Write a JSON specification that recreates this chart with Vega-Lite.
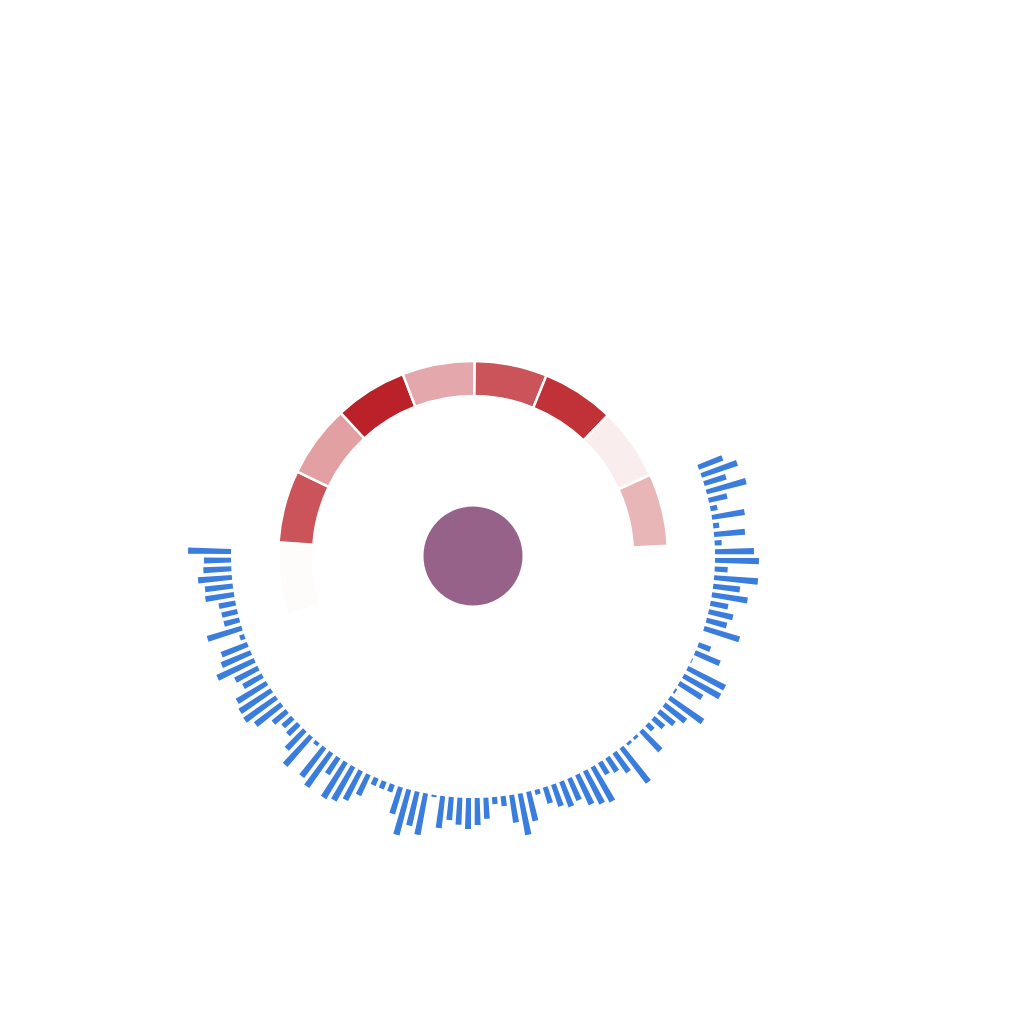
{
  "$schema": "https://vega.github.io/schema/vega-lite/v6.json",
  "autosize": "none",
  "width": 400,
  "height": 400,
  "padding": {"left": 273, "top": 356, "right": 351, "bottom": 268},
  "background": "white",
  "config": {"view": {"stroke": null}},
  "layer": [
    {
      "data": {
        "values": [
          {"seg": 1, "value": 0.02},
          {"seg": 2, "value": 0.77},
          {"seg": 3, "value": 0.43},
          {"seg": 4, "value": 1.0},
          {"seg": 5, "value": 0.39},
          {"seg": 6, "value": 0.77},
          {"seg": 7, "value": 0.93},
          {"seg": 8, "value": 0.08},
          {"seg": 9, "value": 0.33}
        ]
      },
      "mark": {"type": "arc", "innerRadius": 160, "outerRadius": 195, "stroke": "white", "strokeWidth": 2.5},
      "encoding": {
        "theta": {"field": "seg", "type": "ordinal", "scale": {"type": "band", "paddingInner": 0, "paddingOuter": 0, "range": [-1.878, 1.5184]}},
        "color": {"field": "value", "type": "quantitative", "scale": {"domain": [0, 1], "range": ["#ffffff", "#bb2129"], "interpolate": "rgb"}, "legend": null}
      }
    },
    {
      "data": {
        "values": [
          {"i": 1, "v": 26}, {"i": 2, "v": 38}, {"i": 3, "v": 23}, {"i": 4, "v": 41}, {"i": 5, "v": 19},
          {"i": 6, "v": 7}, {"i": 7, "v": 33}, {"i": 8, "v": 6}, {"i": 9, "v": 31}, {"i": 10, "v": 7},
          {"i": 11, "v": 39}, {"i": 12, "v": 44}, {"i": 13, "v": 13}, {"i": 14, "v": 44}, {"i": 15, "v": 27},
          {"i": 16, "v": 36}, {"i": 17, "v": 18}, {"i": 18, "v": 25}, {"i": 19, "v": 21}, {"i": 20, "v": 37},
          {"i": 21, "v": 0}, {"i": 22, "v": 13}, {"i": 23, "v": 27}, {"i": 24, "v": 1}, {"i": 25, "v": 42},
          {"i": 26, "v": 42}, {"i": 27, "v": 27}, {"i": 28, "v": 2}, {"i": 29, "v": 41}, {"i": 30, "v": 27},
          {"i": 31, "v": 20}, {"i": 32, "v": 14}, {"i": 33, "v": 8}, {"i": 34, "v": 28}, {"i": 35, "v": 3},
          {"i": 36, "v": 3}, {"i": 37, "v": 44}, {"i": 38, "v": 24}, {"i": 39, "v": 17}, {"i": 40, "v": 14},
          {"i": 41, "v": 40}, {"i": 42, "v": 37}, {"i": 43, "v": 33}, {"i": 44, "v": 24}, {"i": 45, "v": 27},
          {"i": 46, "v": 23}, {"i": 47, "v": 17}, {"i": 48, "v": 5}, {"i": 49, "v": 30}, {"i": 50, "v": 42},
          {"i": 51, "v": 28}, {"i": 52, "v": 10}, {"i": 53, "v": 7}, {"i": 54, "v": 21}, {"i": 55, "v": 27},
          {"i": 56, "v": 31}, {"i": 57, "v": 27}, {"i": 58, "v": 23}, {"i": 59, "v": 32}, {"i": 60, "v": 2},
          {"i": 61, "v": 42}, {"i": 62, "v": 35}, {"i": 63, "v": 47}, {"i": 64, "v": 28}, {"i": 65, "v": 8},
          {"i": 66, "v": 8}, {"i": 67, "v": 8}, {"i": 68, "v": 23}, {"i": 69, "v": 33}, {"i": 70, "v": 39},
          {"i": 71, "v": 42}, {"i": 72, "v": 20}, {"i": 73, "v": 42}, {"i": 74, "v": 37}, {"i": 75, "v": 4},
          {"i": 76, "v": 39}, {"i": 77, "v": 26}, {"i": 78, "v": 15}, {"i": 79, "v": 13}, {"i": 80, "v": 18},
          {"i": 81, "v": 33}, {"i": 82, "v": 39}, {"i": 83, "v": 38}, {"i": 84, "v": 35}, {"i": 85, "v": 22},
          {"i": 86, "v": 26}, {"i": 87, "v": 41}, {"i": 88, "v": 32}, {"i": 89, "v": 28}, {"i": 90, "v": 5},
          {"i": 91, "v": 36}, {"i": 92, "v": 16}, {"i": 93, "v": 16}, {"i": 94, "v": 17}, {"i": 95, "v": 29},
          {"i": 96, "v": 28}, {"i": 97, "v": 34}, {"i": 98, "v": 28}, {"i": 99, "v": 27}, {"i": 100, "v": 43}
        ]
      },
      "mark": {"type": "arc", "padAngle": 0.0102, "color": "#3b7ddd"},
      "encoding": {
        "theta": {"field": "i", "type": "ordinal", "scale": {"type": "band", "paddingInner": 0, "paddingOuter": 0, "range": [1.1781, 4.749]}},
        "radius": {"field": "v", "type": "quantitative", "scale": {"type": "linear", "domain": [0, 50], "range": [242, 292]}}
      }
    },
    {
      "data": {"values": [{"name": "centre"}]},
      "mark": {"type": "arc", "theta": 0, "theta2": 6.2832, "innerRadius": 0, "outerRadius": 49.5, "color": "#97628a"},
      "encoding": {}
    }
  ],
  "resolve": {"scale": {"theta": "independent", "radius": "independent", "color": "independent"}}
}
